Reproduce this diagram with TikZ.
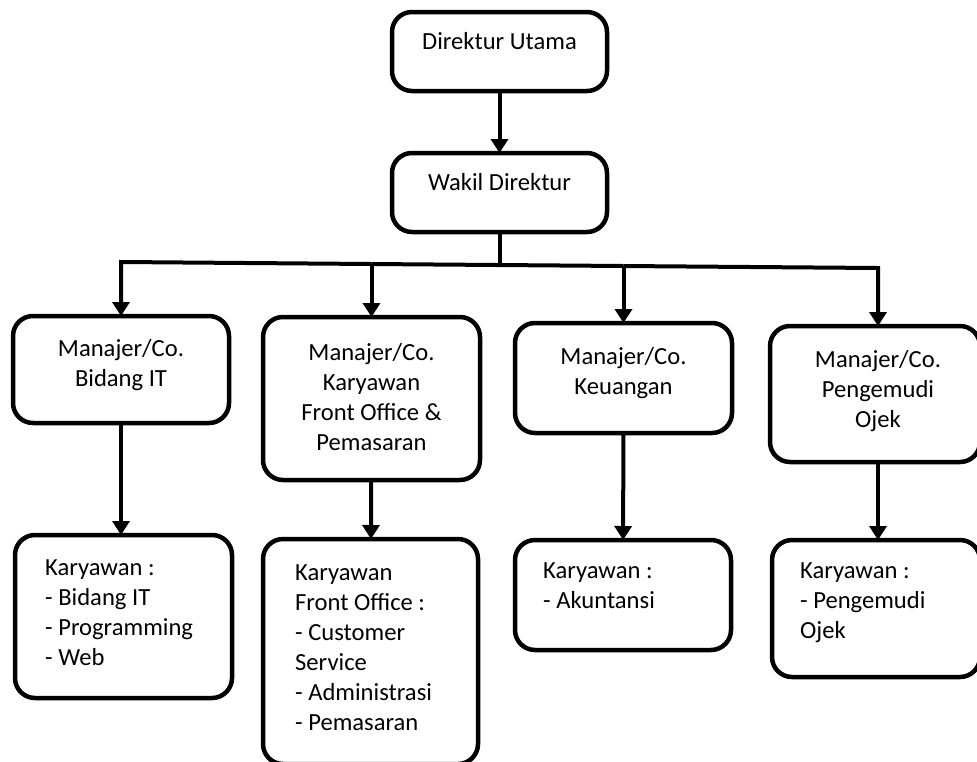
\documentclass[tikz,border=0pt]{standalone}
\usepackage{fontspec}
\setmainfont{Carlito}
\usetikzlibrary{arrows.meta,positioning}

\begin{document}
\begin{tikzpicture}[x=1pt,y=-1pt,
    box/.style = {rectangle, draw, rounded corners=20pt,% boxes of the chart
                  line width=4.5pt, inner sep=0pt, outer sep=0pt},
   head/.style = {align=center, anchor=north, inner sep=0pt,% centred titles
                  font=\fontsize{24.6}{30}\selectfont, execute at begin node=\strut},
   list/.style = {align=left, anchor=north west, inner sep=0pt,% staff lists
                  font=\fontsize{24.6}{30}\selectfont, execute at begin node=\strut},
   wire/.style = {line width=4pt},
   link/.style = {wire, -{Triangle[width=17pt,length=14pt]}},
                        ]
\useasboundingbox (0,0) rectangle (977,761);
% top of the chart
\node[box, minimum width=215, minimum height=79] (du) at (499.5,51.5) {};
\node[box, minimum width=215, minimum height=79] (wd) at (499.5,192.5) {};
\node[head] (du-t) at (499.5,28) {Direktur Utama};
\node[head] (wd-t) at (499.5,169) {Wakil Direktur};
% managers
\node[box, minimum width=216, minimum height=107] (m1) at (121,369.5) {};
\node[box, minimum width=217, minimum height=163] (m2) at (371.5,398.5) {};
\node[box, minimum width=217, minimum height=110] (m3) at (623.5,378) {};
\node[box, minimum width=210, minimum height=136] (m4) at (875,394) {};
\node[head] (m1-t) at (121,339) {Manajer/Co.\\Bidang IT};
\node[head] (m2-t) at (371.5,343) {Manajer/Co.\\Karyawan\\Front Office \&\\Pemasaran};
\node[head] (m3-t) at (623.5,347) {Manajer/Co.\\Keuangan};
\node[head] (m4-t) at (878,350) {Manajer/Co.\\Pengemudi\\Ojek};
% staff
\node[box, minimum width=217, minimum height=163] (k1) at (123.5,616.5) {};
\node[box, minimum width=215, minimum height=225] (k2) at (370.5,651.5) {};
\node[box, minimum width=216, minimum height=110] (k3) at (623,595) {};
\node[box, minimum width=208, minimum height=137] (k4) at (876,608.5) {};
\node[list] (k1-t) at (45,560) {Karyawan :\\- Bidang IT\\- Programming\\- Web};
\node[list] (k2-t) at (295,565) {Karyawan\\Front Office :\\- Customer\\Service\\- Administrasi\\- Pemasaran};
\node[list] (k3-t) at (543,563) {Karyawan :\\- Akuntansi};
\node[list] (k4-t) at (800,563) {Karyawan :\\- Pengemudi\\Ojek};
% connectors
\coordinate (bus) at (499.5,263);
\coordinate (b1) at (121,262);
\coordinate (b2) at (371.5,264);
\coordinate (b3) at (623.5,266);
\coordinate (b4) at (878,268);
\draw[link] (du) -- (wd);
\draw[wire] (wd) -- (bus);
\draw[link] (b2) -- (b1) -- (m1);
\draw[wire] (b2) -- (b3);
\draw[link] (b2) -- (m2);
\draw[link] (b3) -- (m3);
\draw[link] (b3) -- (b4) -- (b4 |- m4.north);
\draw[link] (m1) -- (m1.south |- k1.north);
\draw[link] (m2) -- (k2);
\draw[link] (m3) -- (k3);
\draw[link] (m4.south -| b4) -- (b4 |- k4.north);
\end{tikzpicture}
\end{document}
